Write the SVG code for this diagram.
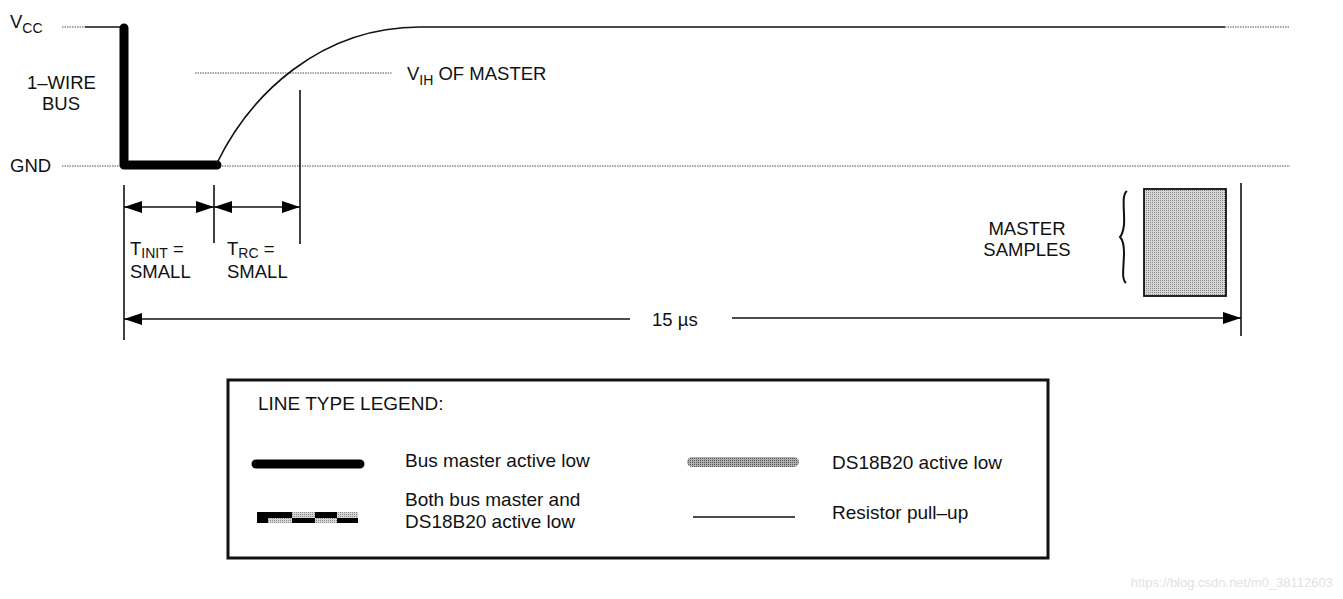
<svg xmlns="http://www.w3.org/2000/svg" width="1343" height="599" viewBox="0 0 1343 599">
<style>
text{font-family:"Liberation Sans",Arial,sans-serif;fill:#111}
.lbl{font-size:18.5px}
.leg{font-size:19px}
.sub{font-size:14px}
.dot{stroke:#8a8a8a;stroke-width:1.5;stroke-dasharray:1.5 1;fill:none}
.thin{stroke:#111;stroke-width:1.6;fill:none}
.thick{stroke:#000;stroke-width:9;fill:none;stroke-linecap:round;stroke-linejoin:round}
</style>
<defs>
<pattern id="stip" width="2" height="2" patternUnits="userSpaceOnUse">
<rect width="2" height="2" fill="#d6d6d6"/><rect width="1" height="1" fill="#8c8c8c"/>
</pattern>
<pattern id="stipd" width="2" height="2" patternUnits="userSpaceOnUse">
<rect width="2" height="2" fill="#b0b0b0"/><rect width="1" height="1" fill="#555"/>
</pattern>
<marker id="ah" viewBox="0 0 18 12" refX="18" refY="6" markerWidth="18" markerHeight="12" markerUnits="userSpaceOnUse" orient="auto-start-reverse">
<path d="M0,0 L18,6 L0,12 Z" fill="#000"/>
</marker>
</defs>
<rect width="1343" height="599" fill="#fff"/>

<g id="levels">
<line class="dot" x1="62" y1="27" x2="85" y2="27"/>
<line class="dot" x1="1225" y1="27" x2="1290" y2="27"/>
<line class="dot" x1="62" y1="166" x2="1290" y2="166"/>
<line class="dot" x1="195" y1="73" x2="392" y2="73"/>
<text class="lbl" x="10" y="28" font-size="19">V<tspan class="sub" font-size="15" dy="5">CC</tspan></text>
<text class="lbl" x="27" y="89">1–WIRE</text>
<text class="lbl" x="42" y="110">BUS</text>
<text class="lbl" x="10" y="172">GND</text>
<text class="lbl" x="407" y="80">V<tspan class="sub" font-size="15" dy="5">IH</tspan><tspan dy="-5"> OF MASTER</tspan></text>
</g>

<g id="waveform">
<line class="thin" x1="85" y1="27" x2="124" y2="27"/>
<path class="thick" d="M124,28 L124,165 L217,165"/>
<path class="thin" d="M217,163 C250,95 320,27 420,27 L1225,27"/>
</g>

<g id="connectors">
<line class="thin" x1="124" y1="185" x2="124" y2="340"/>
<line class="thin" x1="214" y1="185" x2="214" y2="243"/>
<line class="thin" x1="300" y1="90" x2="300" y2="244"/>
<line class="thin" x1="1241" y1="183" x2="1241" y2="336"/>
<line class="thin" x1="124" y1="207" x2="214" y2="207" marker-start="url(#ah)" marker-end="url(#ah)"/>
<line class="thin" x1="214" y1="207" x2="300" y2="207" marker-start="url(#ah)" marker-end="url(#ah)"/>
<line class="thin" x1="124" y1="319" x2="630" y2="319" marker-start="url(#ah)"/>
<line class="thin" x1="732" y1="318" x2="1241" y2="318" marker-end="url(#ah)"/>
</g>

<g id="timing-labels">
<text class="lbl" x="130" y="255">T<tspan class="sub" dy="3">INIT</tspan><tspan dy="-3"> =</tspan></text>
<text class="lbl" x="130" y="278">SMALL</text>
<text class="lbl" x="227" y="255">T<tspan class="sub" dy="3">RC</tspan><tspan dy="-3"> =</tspan></text>
<text class="lbl" x="227" y="278">SMALL</text>
<text class="lbl" x="652" y="326">15 µs</text>
</g>

<g id="master-samples">
<text class="lbl" x="1027" y="235" text-anchor="middle">MASTER</text>
<text class="lbl" x="1027" y="256" text-anchor="middle">SAMPLES</text>
<path d="M1127,191 C1121,195 1125,212 1124,225 C1123,232 1122,235 1120,237 C1122,239 1124,245 1124,253 C1124,266 1121,279 1126,283" fill="none" stroke="#111" stroke-width="2"/>
<rect x="1144" y="189" width="82" height="107" fill="url(#stip)" stroke="#111" stroke-width="1.8"/>
</g>

<g id="legend">
<rect x="228" y="380" width="820" height="178" fill="none" stroke="#111" stroke-width="3"/>
<text class="leg" x="258" y="410">LINE TYPE LEGEND:</text>
<line class="thick" x1="256" y1="464" x2="360" y2="464"/>
<text class="leg" x="405" y="467">Bus master active low</text>
<g id="legend-both">
<rect x="257" y="512" width="35" height="6" fill="#000"/>
<rect x="257" y="518" width="11" height="5" fill="#000"/>
<rect x="268" y="518" width="24" height="5" fill="url(#stip)"/>
<rect x="292" y="512" width="23" height="6" fill="url(#stip)"/>
<rect x="292" y="518" width="23" height="5" fill="#000"/>
<rect x="315" y="512" width="22" height="6" fill="#000"/>
<rect x="315" y="518" width="22" height="5" fill="url(#stip)"/>
<rect x="337" y="512" width="21" height="6" fill="url(#stip)"/>
<rect x="337" y="518" width="21" height="5" fill="#000"/>
</g>
<text class="leg" x="405" y="506">Both bus master and</text>
<text class="leg" x="405" y="528">DS18B20 active low</text>
<rect x="687" y="457" width="112" height="10" rx="5" fill="url(#stipd)"/>
<text class="leg" x="832" y="469">DS18B20 active low</text>
<line class="thin" x1="693" y1="517" x2="795" y2="517"/>
<text class="leg" x="832" y="519">Resistor pull–up</text>
</g>

<text x="1333" y="587" text-anchor="end" font-size="13" style="fill:#e2e2e2">https://blog.csdn.net/m0_38112603</text>
</svg>
